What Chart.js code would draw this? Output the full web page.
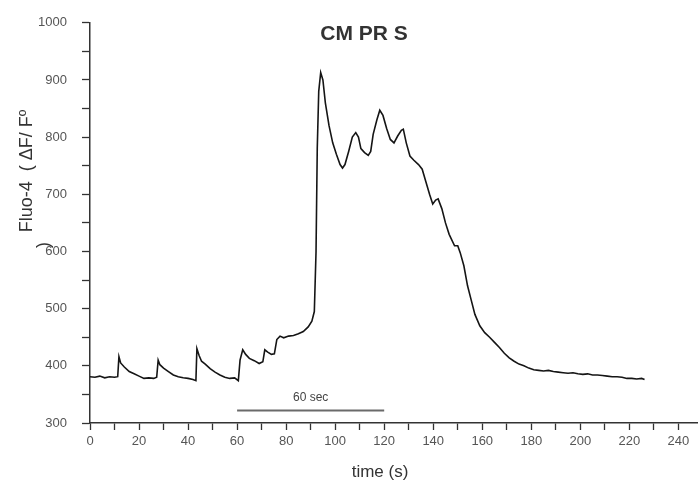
<!DOCTYPE html>
<html>
<head>
<meta charset="utf-8">
<script src="https://cdn.jsdelivr.net/npm/chart.js@4"></script>
<style>
  body { margin: 0; background: #fff; }
  #wrap { width: 698px; height: 488px; }
</style>
</head>
<body>
<div id="wrap"><canvas id="trace" width="698" height="488"></canvas></div>
<script>
// time points (s) and Fluo-4 signal
const timeSec = [0, 2, 4, 6, 8, 10, 11.3,
  11.8, 12.5, 14, 16, 18, 20, 22, 24, 26, 27.2,
  27.8, 28.5, 30, 32, 34, 36, 38, 40, 42, 43.2,
  43.6, 44.5, 45.5, 47, 49, 51, 53, 55, 57, 59, 60.5,
  61.2, 62.3, 63.5, 65, 67, 69, 70.5,
  71.3, 72.5, 74, 75.2,
  76.2, 77.5, 79, 81, 83, 85, 87, 89, 90.5, 91.5,
  92.2, 92.7, 93.3, 94.1, 95, 96, 97.5, 99, 100.5, 102, 103, 104, 105.5, 107, 108.4,
  109.5, 110.5, 112, 113.5, 114.5, 115.5, 117, 118.2, 119.5, 121, 122.5, 124, 125.5,
  127, 127.8, 129, 130.5, 132, 134, 135.5, 137, 138.5, 139.8, 141, 142, 143.5, 145,
  146.5, 148.7, 150, 151, 152.5, 154, 155.5, 157, 159, 161, 163, 165, 167, 169, 171,
  173, 175, 177, 179, 181, 183, 185, 187, 189, 191, 193, 195, 197, 199, 201, 203, 205,
  207, 209, 211, 213, 215, 217, 219, 221, 223, 225, 226.2];
const fluo = [381, 380, 382, 379, 381, 380, 381,
  416, 405, 398, 390, 386, 382, 378, 379, 378, 380,
  410, 402, 396, 390, 384, 381, 379, 378, 376, 374,
  430, 418, 408, 403, 395, 389, 384, 380, 378, 379, 374,
  410, 428, 420, 413, 409, 404, 407,
  428, 424, 420, 421,
  446, 452, 449, 452, 453, 456, 460, 468, 478, 495,
  600, 780, 880, 913, 900, 860, 820, 790, 770, 752, 746, 752, 775, 800, 808,
  800, 780, 773, 768, 775, 805, 830, 847, 838, 815, 796, 790, 802,
  812, 814, 790, 767, 760, 752, 744, 722, 700, 683, 690, 692, 675, 650,
  630, 610, 610, 598, 575, 540, 515, 490, 470, 458, 450, 441, 432, 422, 414,
  408, 403, 400, 396, 393, 392, 391, 392, 390, 389, 388, 387, 388, 386, 385, 386, 384,
  384, 383, 382, 381, 381, 380, 378, 378, 377, 378, 376];
// 60 sec scale bar
const barTime = [60, 120];
const barLevel = [322, 322];
const xTickLabels = [0, 20, 40, 60, 80, 100, 120, 140, 160, 180, 200, 220, 240];
const yTickLabels = [300, 400, 500, 600, 700, 800, 900, 1000];

const textPlugin = {
  id: 'texts',
  afterDraw(chart) {
    const c = chart.ctx;
    const x = chart.scales.x, y = chart.scales.y;
    c.save();
    c.fillStyle = '#333';
    c.textAlign = 'center';
    c.textBaseline = 'middle';
    c.font = 'bold 21px Arial, "Liberation Sans"';
    c.fillText('CM PR S', 364, 34);
    c.font = '17px Arial, "Liberation Sans"';
    c.fillText('time (s)', 380, 472);
    c.fillStyle = '#444';
    c.font = '12px Arial, "Liberation Sans"';
    c.fillText('60 sec', x.getPixelForValue(90), y.getPixelForValue(345));
    c.fillStyle = '#333';
    c.font = '18px Arial, "Liberation Sans"';
    c.translate(27, 171);
    c.rotate(-Math.PI / 2);
    c.fillText('Fluo-4  ( \u0394F/ F\u00ba', 0, 0);
    c.fillText(')', -74, 17);
    c.restore();
  }
};

new Chart(document.getElementById('trace'), {
  type: 'line',
  data: {
    datasets: [{
      data: timeSec.map((t, i) => ({ x: t, y: fluo[i] })),
      borderColor: '#151515',
      borderWidth: 1.6,
      pointRadius: 0,
      tension: 0
    }, {
      data: barTime.map((t, i) => ({ x: t, y: barLevel[i] })),
      borderColor: '#6a6a6a',
      borderWidth: 2,
      pointRadius: 0
    }]
  },
  options: {
    responsive: false,
    animation: false,
    layout: { padding: { top: 21, right: 0, bottom: 0, left: 0 } },
    plugins: { legend: { display: false }, tooltip: { enabled: false } },
    scales: {
      x: {
        type: 'linear',
        min: 0,
        max: 248,
        afterFit(s) { s.height = 65; },
        border: { color: '#333', width: 1.5 },
        grid: { drawOnChartArea: false, tickLength: 7, tickColor: '#333', tickWidth: 1.3 },
        ticks: {
          stepSize: 10,
          includeBounds: false,
          maxRotation: 0,
          autoSkip: false,
          color: '#555',
          padding: 4,
          font: { family: 'Arial, "Liberation Sans"', size: 13 },
          callback: v => xTickLabels.includes(v) ? String(v) : ''
        }
      },
      y: {
        min: 300,
        max: 1000,
        afterFit(s) { s.width = 90; },
        border: { color: '#333', width: 1.5 },
        grid: { drawOnChartArea: false, tickLength: 8, tickColor: '#333', tickWidth: 1.3 },
        ticks: {
          stepSize: 50,
          color: '#555',
          padding: 15,
          font: { family: 'Arial, "Liberation Sans"', size: 13 },
          callback: v => yTickLabels.includes(v) ? String(v) : ''
        }
      }
    }
  },
  plugins: [textPlugin]
});
</script>
</body>
</html>
